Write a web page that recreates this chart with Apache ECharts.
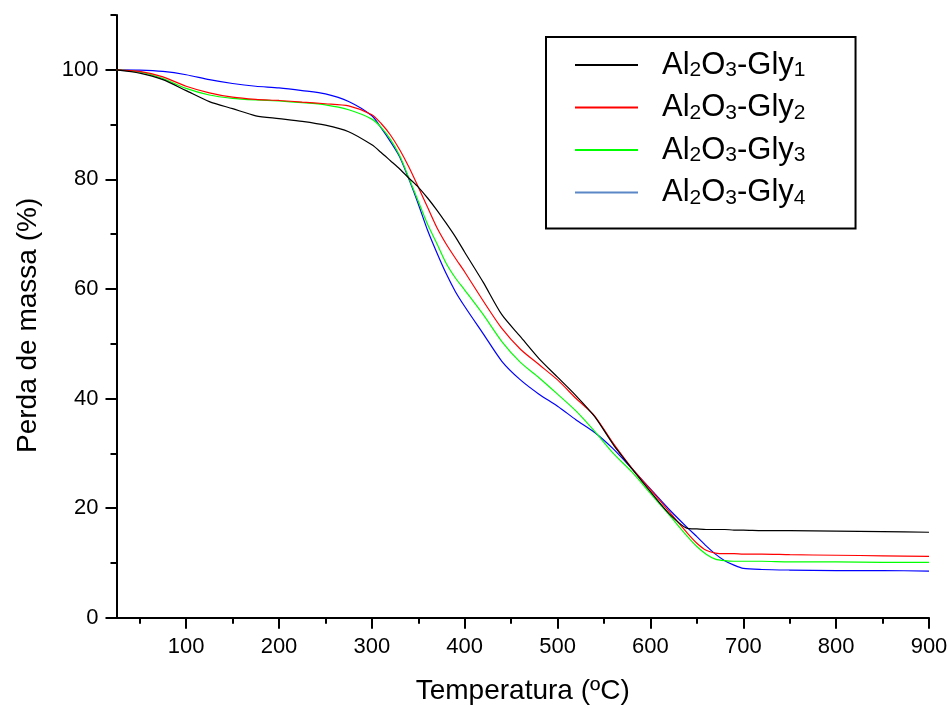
<!DOCTYPE html>
<html>
<head>
<meta charset="utf-8">
<script src="https://cdn.jsdelivr.net/npm/echarts@6/dist/echarts.min.js"></script>
<style>html,body{margin:0;padding:0;background:#fff;}#chart{width:949px;height:709px;}</style>
</head>
<body>
<div id="chart"></div>
<script>
// ---- data ----
const temperature = [25,50,75,100,125,150,175,200,225,250,275,300,310,320,330,340,350,360,370,380,390,400,420,440,460,480,500,520,540,560,580,600,620,640,650,660,670,680,690,700,720,750,800,850,900];
const gly1 = [100,99.4,98.2,96.2,94.2,92.9,91.6,91.1,90.6,89.9,88.7,86.3,84.9,83.4,81.9,80.2,78.6,76.6,74.4,72.0,69.5,66.7,61.2,55.3,51.3,47.3,43.9,40.5,36.7,31.6,27.2,23.0,19.0,16.3,16.2,16.1,16.1,16.1,16.0,16.0,15.9,15.9,15.8,15.7,15.6];
const gly2 = [100,99.7,98.7,97.0,95.8,95.0,94.6,94.4,94.1,93.8,93.4,91.8,90.2,88.1,85.4,82.2,78.6,74.9,71.2,68.2,65.6,63.1,57.8,52.8,49.0,46.2,43.4,40.0,36.8,31.8,27.3,23.4,19.4,15.4,13.6,12.3,11.8,11.7,11.7,11.6,11.6,11.5,11.4,11.3,11.2];
const gly3 = [100,99.6,98.4,96.6,95.4,94.8,94.5,94.3,94.0,93.6,92.7,91.0,89.5,87.3,84.3,80.2,76.0,71.8,68.3,64.7,62.0,59.8,55.3,50.4,46.6,43.8,40.8,37.7,34.0,30.0,26.6,22.7,18.8,14.8,13.0,11.6,10.7,10.4,10.3,10.3,10.3,10.2,10.2,10.1,10.1];
const gly4 = [100,99.95,99.7,99.1,98.2,97.5,97.0,96.7,96.2,95.6,94.2,91.6,89.4,86.9,84.1,80.0,75.5,70.7,66.6,62.8,59.5,56.8,51.8,46.8,43.4,40.8,38.6,36.1,33.8,30.8,27.2,23.5,19.8,16.4,14.8,13.1,11.6,10.4,9.6,9.0,8.8,8.7,8.6,8.6,8.5];
const seriesNames = ['Al2O3-Gly1','Al2O3-Gly2','Al2O3-Gly3','Al2O3-Gly4'];
const xMajorTicks = [100,200,300,400,500,600,700,800,900];
const xMinorTicks = [50,150,250,350,450,550,650,750,850];
const yMajorTicks = [0,20,40,60,80,100];
const yMinorTicks = [10,30,50,70,90,110];
const xTitle = 'Temperatura (ºC)';
const yTitle = 'Perda de massa (%)';

// ---- chart ----
const FONT = '"Liberation Sans", Arial, sans-serif';
const colors = ['#000000','#ff0000','#00ff00','#0000ff'];
const legendColors = ['#000000','#ff0000','#00ff00','#5b87c6'];
const allValues = [gly1, gly2, gly3, gly4];

const chart = echarts.init(document.getElementById('chart'), null, {renderer: 'canvas'});
const axisLine = {show: true, lineStyle: {color: '#000', width: 2}};
const option = {
  animation: false,
  backgroundColor: '#fff',
  grid: {left: 116.5, right: 20, top: 15, bottom: 91.3, containLabel: false, outerBoundsMode: 'none'},
  legend: {
    orient: 'vertical',
    left: 546, top: 37,
    padding: [12, 50, 20, 29],
    borderColor: '#000', borderWidth: 2,
    itemWidth: 63, itemHeight: 2, itemGap: 10.5,
    icon: 'rect',
    data: seriesNames.map((n, i) => ({name: n, itemStyle: {color: legendColors[i]}})),
    formatter: function (name) {
      const k = name.slice(-1);
      return '{g|}{n|Al}{s|2}{n|O}{s|3}{n|-Gly}{s|' + k + '}';
    },
    textStyle: {
      fontFamily: FONT, color: '#000',
      rich: {
        g: {width: 19, height: 32, lineHeight: 32},
        n: {fontFamily: FONT, fontSize: 31, lineHeight: 32, color: '#000'},
        s: {fontFamily: FONT, fontSize: 21, lineHeight: 22, verticalAlign: 'bottom', color: '#000'}
      }
    }
  },
  xAxis: [{
    type: 'value', min: 25, max: 900,
    position: 'bottom',
    axisLine: axisLine,
    splitLine: {show: false},
    axisTick: {show: true, inside: false, length: 11, lineStyle: {color: '#000', width: 2}, customValues: xMajorTicks},
    axisLabel: {customValues: xMajorTicks, fontFamily: FONT, fontSize: 22, color: '#000', margin: 18},
    name: xTitle, nameLocation: 'middle', nameGap: 60,
    nameTextStyle: {fontFamily: FONT, fontSize: 28, color: '#000'}
  }, {
    type: 'value', min: 25, max: 900, position: 'bottom',
    axisLine: {show: false}, splitLine: {show: false},
    axisTick: {show: true, length: 6, lineStyle: {color: '#000', width: 2}, customValues: xMinorTicks},
    axisLabel: {show: false}
  }],
  yAxis: [{
    type: 'value', min: 0, max: 110,
    position: 'left',
    axisLine: axisLine,
    splitLine: {show: false},
    axisTick: {show: true, length: 11, lineStyle: {color: '#000', width: 2}, customValues: yMajorTicks},
    axisLabel: {customValues: yMajorTicks, fontFamily: FONT, fontSize: 22, color: '#000', margin: 18},
    name: yTitle, nameLocation: 'middle', nameGap: 74,
    nameTextStyle: {fontFamily: FONT, fontSize: 28, color: '#000', padding: [0, 18, 0, 0]}
  }, {
    type: 'value', min: 0, max: 110, position: 'left',
    axisLine: {show: false}, splitLine: {show: false},
    axisTick: {show: true, length: 6, lineStyle: {color: '#000', width: 2}, customValues: yMinorTicks},
    axisLabel: {show: false}
  }],
  series: seriesNames.map((n, i) => ({
    name: n, type: 'line', xAxisIndex: 0, yAxisIndex: 0,
    data: temperature.map((t, j) => [t, allValues[i][j]]),
    symbol: 'none', smooth: 0.25,
    lineStyle: {color: colors[i], width: 1.2},
    itemStyle: {color: colors[i]},
    z: 2 + (3 - i)
  }))
};
chart.setOption(option);
</script>
</body>
</html>
